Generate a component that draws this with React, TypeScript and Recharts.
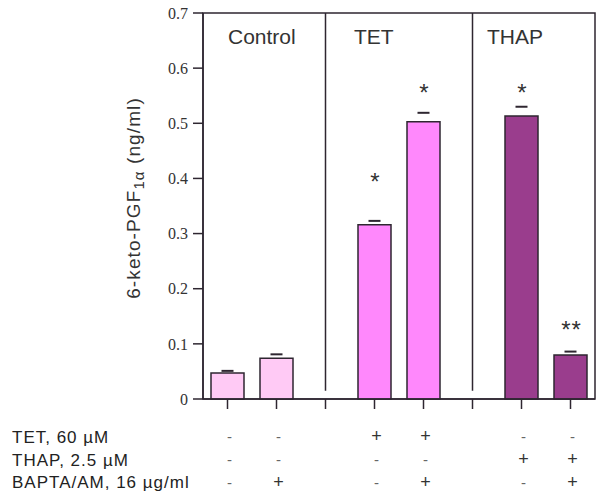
import React from "react";
import {
  ComposedChart,
  Bar,
  Cell,
  Scatter,
  XAxis,
  YAxis,
  ReferenceLine,
  ReferenceArea,
} from "recharts";

// one slot per position on the x axis; the two "gap" slots hold the panel dividers
const categories = ["ctl", "ctl+bapta", "gap1", "tet", "tet+bapta", "gap2", "thap", "thap+bapta"];
const means = [0.047, 0.074, null, 0.316, 0.503, null, 0.513, 0.08];
const sems = [0.004, 0.007, null, 0.007, 0.016, null, 0.017, 0.006];
const starLevels = [null, null, null, 0.405, 0.566, null, 0.566, 0.136];
const starMarks = ["", "", "", "*", "*", "", "*", "**"];

const tetRow = ["-", "-", "", "+", "+", "", "-", "-"];
const thapRow = ["-", "-", "", "-", "-", "", "+", "+"];
const baptaRow = ["-", "+", "", "-", "+", "", "-", "+"];
const rowLabels = ["TET, 60 µM", "THAP, 2.5 µM", "BAPTA/AM, 16 µg/ml"];

const groupTitles = ["Control", "TET", "THAP"];
const yTicks = [0, 0.1, 0.2, 0.3, 0.4, 0.5, 0.6, 0.7];

const barFills = ["#ffcaf5", "#ffcaf5", "none", "#ff88fc", "#ff88fc", "none", "#9a3d8d", "#9a3d8d"];

const INK = "#2e2630";
const SANS = "'Liberation Sans', Arial, sans-serif";

const rows = categories.map((cat, i) => ({
  cat,
  mean: means[i],
  cap: means[i] == null ? null : (means[i] as number) + (sems[i] as number),
  star: starLevels[i],
  mark: starMarks[i],
}));

const CapShape = (p: any) => {
  if (p.payload?.cap == null || !isFinite(p.cy)) return <g />;
  return (
    <line x1={p.cx - 6} x2={p.cx + 6} y1={p.cy} y2={p.cy} stroke={INK} strokeWidth={2} />
  );
};

const StarShape = (p: any) => {
  if (p.payload?.star == null || !isFinite(p.cy)) return <g />;
  return (
    <text
      x={p.cx + 1}
      y={p.cy + 14}
      textAnchor="middle"
      fontSize={24}
      fontFamily={SANS}
      fill="#333"
      letterSpacing={1}
    >
      {p.payload.mark}
    </text>
  );
};

const TableTick = (p: any) => {
  const i = categories.indexOf(p.payload.value);
  const cells = [tetRow[i], thapRow[i], baptaRow[i]];
  return (
    <g>
      {cells.map((s, r) => (
        <text
          key={r}
          x={p.x + 2}
          y={p.y + 31 + r * 23}
          textAnchor="middle"
          fontSize={s === "+" ? 18 : 15}
          fontFamily={SANS}
          fill={s === "+" ? "#333" : "#666"}
        >
          {s}
        </text>
      ))}
    </g>
  );
};

export default function App() {
  return (
    <div style={{ position: "absolute", left: 0, top: 0, width: 600, height: 500, background: "#fff" }}>
      <ComposedChart
        width={600}
        height={500}
        data={rows}
        margin={{ top: 13, right: 5, bottom: 0, left: 0 }}
      >
        <XAxis
          dataKey="cat"
          interval={0}
          height={101}
          tickSize={10}
          tickMargin={2}
          tick={<TableTick />}
          tickLine={{ stroke: INK, strokeWidth: 1.5 }}
          axisLine={{ stroke: INK, strokeWidth: 1.5 }}
        />
        <YAxis
          domain={[0, 0.7]}
          ticks={yTicks}
          width={203}
          tickSize={10}
          tickMargin={5}
          tickFormatter={(v: number) => (v === 0 ? "0" : v.toFixed(1))}
          tick={{ fontFamily: "'Liberation Serif', serif", fontSize: 16, fill: "#333" }}
          tickLine={{ stroke: INK, strokeWidth: 1.5 }}
          axisLine={{ stroke: INK, strokeWidth: 1.5 }}
        />
        <ReferenceArea y1={0} y2={0.7} fill="none" stroke={INK} strokeWidth={1.5} />
        <ReferenceLine
          segment={[{ x: "gap1", y: 0.015 }, { x: "gap1", y: 0.7 }]}
          stroke={INK}
          strokeWidth={1.5}
        />
        <ReferenceLine
          segment={[{ x: "gap2", y: 0.015 }, { x: "gap2", y: 0.7 }]}
          stroke={INK}
          strokeWidth={1.5}
        />
        <Bar dataKey="mean" barSize={33} stroke={INK} strokeWidth={1.5} isAnimationActive={false}>
          {rows.map((_, i) => (
            <Cell key={`bar-${i}`} fill={barFills[i]} />
          ))}
        </Bar>
        <Scatter dataKey="cap" shape={<CapShape />} isAnimationActive={false} />
        <Scatter dataKey="star" shape={<StarShape />} isAnimationActive={false} />
      </ComposedChart>

      <svg
        width={600}
        height={500}
        style={{ position: "absolute", left: 0, top: 0, pointerEvents: "none" }}
      >
        <text x={228} y={44} fontSize={21} fontFamily={SANS} fill="#333">{groupTitles[0]}</text>
        <text x={354} y={44} fontSize={21} fontFamily={SANS} fill="#333">{groupTitles[1]}</text>
        <text x={487} y={44} fontSize={21} fontFamily={SANS} fill="#333">{groupTitles[2]}</text>

        <text
          x={133}
          y={198}
          transform="rotate(-90 133 198)"
          textAnchor="middle"
          dominantBaseline="central"
          fontSize={19}
          letterSpacing={1.1}
          fontFamily={SANS}
          fill="#333"
        >
          <tspan>6-keto-PGF</tspan>
          <tspan fontSize={15} dy={5}>1α</tspan>
          <tspan dy={-5}> (ng/ml)</tspan>
        </text>

        {rowLabels.map((t, r) => (
          <text
            key={t}
            x={12}
            y={443 + r * 22.5}
            fontSize={17}
            letterSpacing={1}
            fontFamily={SANS}
            fill="#222"
          >
            {t}
          </text>
        ))}
      </svg>
    </div>
  );
}
